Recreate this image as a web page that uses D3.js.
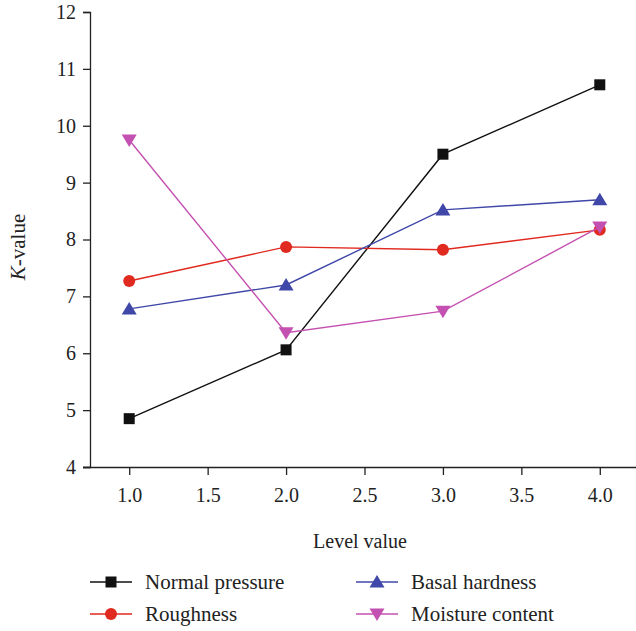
<!DOCTYPE html>
<html><head><meta charset="utf-8">
<script src="https://cdn.jsdelivr.net/npm/d3@7"></script>
<style>body{margin:0;background:#fff}svg{display:block}text{font-family:"Liberation Serif","DejaVu Serif",serif;fill:#222}</style>
</head><body><svg id="c" width="636" height="631"></svg>
<script>
const levels = [1, 2, 3, 4];
const normalPressure = [4.85, 6.06, 9.50, 10.72];
const roughness = [7.27, 7.87, 7.82, 8.17];
const basalHardness = [6.78, 7.20, 8.52, 8.70];
const moistureContent = [9.75, 6.36, 6.74, 8.22];
const xTicks = [1.0, 1.5, 2.0, 2.5, 3.0, 3.5, 4.0];
const yTicks = [4, 5, 6, 7, 8, 9, 10, 11, 12];
const seriesNames = ["Normal pressure", "Roughness", "Basal hardness", "Moisture content"];

const series = [
  {name: seriesNames[0], values: normalPressure, color: "#111111", shape: "square"},
  {name: seriesNames[1], values: roughness, color: "#e0291f", shape: "circle"},
  {name: seriesNames[2], values: basalHardness, color: "#3f47a8", shape: "up"},
  {name: seriesNames[3], values: moistureContent, color: "#c451b1", shape: "down"}
];

const svg = d3.select("#c");
const x = d3.scaleLinear().domain([0.75, 4.25]).range([90, 639]);
const y = d3.scaleLinear().domain([4, 12]).range([467, 12]);

const xAxis = svg.append("g").attr("transform", "translate(0,467)")
  .call(d3.axisBottom(x).tickValues(xTicks).tickFormat(d3.format(".1f")).tickSizeOuter(0).tickSize(8).tickPadding(13));
xAxis.select(".domain").attr("d", "M83,0.5H636");
const yAxis = svg.append("g").attr("transform", "translate(90,0)")
  .call(d3.axisLeft(y).tickValues(yTicks).tickSizeOuter(0).tickSize(7).tickPadding(7));
[xAxis, yAxis].forEach(g => {
  g.attr("font-size", 20).attr("font-family", '"Liberation Serif",serif');
  g.selectAll("path,line").attr("stroke", "#222").attr("stroke-width", 1.3);
  g.selectAll("text").attr("font-size", 20).attr("fill", "#222");
});
xAxis.selectAll(".tick text").attr("dy", "0.71em");

function marker(g, shape, color, cx, cy) {
  if (shape === "square") g.append("rect").attr("x", cx - 5.5).attr("y", cy - 5.5).attr("width", 11).attr("height", 11).attr("fill", color);
  else if (shape === "circle") g.append("circle").attr("cx", cx).attr("cy", cy).attr("r", 6).attr("fill", color);
  else if (shape === "up") g.append("path").attr("d", `M${cx},${cy-7}L${cx+7.5},${cy+5.5}L${cx-7.5},${cy+5.5}Z`).attr("fill", color);
  else g.append("path").attr("d", `M${cx},${cy+7}L${cx+7.5},${cy-5.5}L${cx-7.5},${cy-5.5}Z`).attr("fill", color);
}

const line = d3.line().x((d, i) => x(levels[i])).y(d => y(d));
series.forEach(s => {
  const g = svg.append("g");
  g.append("path").attr("d", line(s.values)).attr("fill", "none").attr("stroke", s.color).attr("stroke-width", 1.4);
  s.values.forEach((v, i) => marker(g, s.shape, s.color, x(levels[i]), y(v)));
});

svg.append("text").attr("x", 360).attr("y", 548).attr("text-anchor", "middle").attr("font-size", 20).text("Level value");
const yl = svg.append("text").attr("transform", "translate(25,247) rotate(-90)").attr("text-anchor", "middle").attr("font-size", 21);
yl.append("tspan").style("font-style", "italic").text("K");
yl.append("tspan").text("-value");

const legPos = [[90, 582], [90, 614], [356, 582], [356, 614]];
series.forEach((s, i) => {
  const [lx, ly] = legPos[i];
  const g = svg.append("g");
  g.append("line").attr("x1", lx).attr("x2", lx + 42).attr("y1", ly).attr("y2", ly).attr("stroke", s.color).attr("stroke-width", 1.4);
  marker(g, s.shape, s.color, lx + 21, ly);
  g.append("text").attr("x", lx + 55).attr("y", ly).attr("dy", "0.35em").attr("font-size", 21).text(s.name);
});
</script></body></html>
